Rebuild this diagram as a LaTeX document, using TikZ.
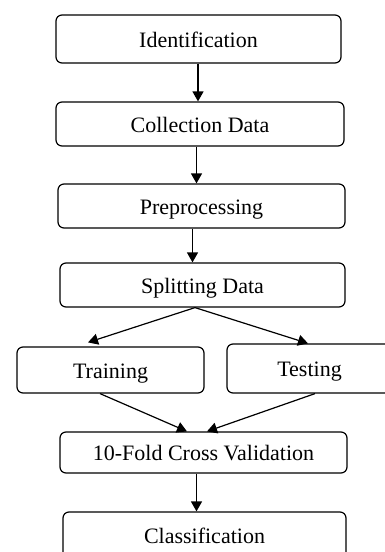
\documentclass[tikz,border=0pt]{standalone}
\usepackage{fontspec}
\setmainfont{Liberation Serif}
\usetikzlibrary{arrows.meta}
\tikzset{
  stage/.style={draw, rounded corners=6pt, line width=1.2pt, inner sep=0pt,
    font=\fontsize{22}{26}\selectfont, text height=16pt, text depth=0pt},
  flow/.style={line width=1.2pt, -{Triangle[length=10pt,width=11pt]}}
}
\begin{document}
\begin{tikzpicture}[x=1pt,y=-1pt]
  \useasboundingbox (0,0) rectangle (384,552);
  \node[stage, minimum width=285pt, minimum height=48pt] (ident) at (198.5,39) {Identification};
  \node[stage, minimum width=288pt, minimum height=44pt] (collect) at (200,124) {Collection Data};
  \node[stage, minimum width=287pt, minimum height=44pt] (prep) at (201.5,206) {Preprocessing};
  \node[stage, minimum width=285pt, minimum height=44pt] (split) at (202.5,285) {Splitting Data};
  \node[stage, minimum width=187pt, minimum height=46pt] (train) at (110.5,370) {Training};
  \node[stage, minimum width=165pt, minimum height=49pt] (test) at (309.5,368.5) {Testing};
  \node[stage, minimum width=287pt, minimum height=41pt] (cv) at (203.5,452.5) {10-Fold Cross Validation};
  \node[stage, minimum width=283pt, minimum height=46pt] (class) at (204.5,535) {Classification};
  % connectors
  \draw[flow] ([xshift=-0.5pt]ident.south) -- ([xshift=-2pt]collect.north);
  \draw[flow] ([xshift=-3.5pt]collect.south) -- ([xshift=-5pt]prep.north);
  \draw[flow] ([xshift=-9pt]prep.south) -- ([xshift=-10pt]split.north);
  \draw[flow] ([xshift=-7.5pt]split.south) -- ([xshift=-22.5pt,yshift=4pt]train.north);
  \draw[flow] ([xshift=-7.5pt]split.south) -- ([xshift=-1.5pt]test.north);
  \draw[flow] ([xshift=-10.5pt]train.south) -- ([xshift=-16.5pt]cv.north);
  \draw[flow] ([xshift=5.5pt]test.south) -- ([xshift=3.5pt]cv.north);
  \draw[flow] ([xshift=-7pt]cv.south) -- ([xshift=-8pt]class.north);
\end{tikzpicture}
\end{document}
